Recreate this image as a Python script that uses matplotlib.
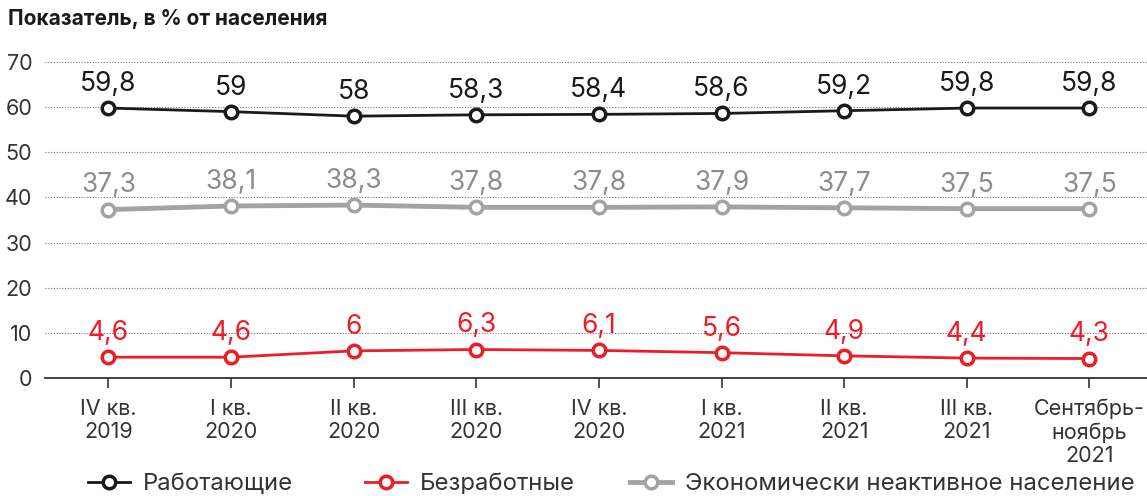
import matplotlib
matplotlib.use('Agg')
import matplotlib.pyplot as plt
from matplotlib.lines import Line2D

plt.rcParams['font.family'] = ['Inter', 'DejaVu Sans']

periods = ['IV кв.\n2019', 'I кв.\n2020', 'II кв.\n2020', 'III кв.\n2020', 'IV кв.\n2020',
           'I кв.\n2021', 'II кв.\n2021', 'III кв.\n2021', 'Сентябрь-\nноябрь\n2021']
working = [59.8, 59, 58, 58.3, 58.4, 58.6, 59.2, 59.8, 59.8]
unemployed = [4.6, 4.6, 6, 6.3, 6.1, 5.6, 4.9, 4.4, 4.3]
inactive = [37.3, 38.1, 38.3, 37.8, 37.8, 37.9, 37.7, 37.5, 37.5]

names = ['Работающие', 'Безработные', 'Экономически неактивное население']
colors = ['#1a1a1a', '#ee1c25', '#a3a3a3']
text_colors = ['#1a1a1a', '#ee1c25', '#8c8c8c']
widths = [2.0, 2.0, 3.5]

fig = plt.figure(figsize=(11.47, 4.96), dpi=100)
ax = fig.add_axes([0.039, 0.238, 0.961, 0.637])

x = list(range(len(periods)))
for vals, c, tc, lw in zip([working, unemployed, inactive], colors, text_colors, widths):
    ax.plot(x, vals, color=c, lw=lw, marker='o', ms=9, mfc='white', mec=c, mew=2.5, zorder=3)
    for xi, v in zip(x, vals):
        ax.annotate(f'{v:g}'.replace('.', ','), (xi, v), xytext=(0, 8), textcoords='offset points',
                    ha='center', va='bottom', fontsize=19, color=tc)

ax.set_xlim(-0.52, 8.47)
ax.set_ylim(0, 70)
ax.set_yticks(range(0, 71, 10))
ax.set_xticks(x)
ax.set_xticklabels(periods, fontsize=15.5, color='#333333', linespacing=1.18)
ax.tick_params(axis='y', length=0, pad=9, labelsize=15.5, labelcolor='#333333')
ax.tick_params(axis='x', length=7, width=1.2, color='#333333', pad=8)
for s in ['top', 'right', 'left']:
    ax.spines[s].set_visible(False)
ax.spines['bottom'].set_color('#333333')
ax.spines['bottom'].set_linewidth(1.3)
ax.grid(axis='y', linestyle=(0, (1, 1.5)), color='#777777', lw=0.8)
ax.set_axisbelow(True)

fig.text(0.007, 0.962, 'Показатель, в % от населения', fontsize=15, fontweight='bold',
         color='#1a1a1a', va='center')

# legend entries placed separately, as in the reference
leg_x = [88 / 1147, 365 / 1147, 630 / 1147]
for name, c, lw, lx in zip(names, colors, widths, leg_x):
    h = Line2D([], [], color=c, lw=lw, marker='o', ms=9, mfc='white', mec=c, mew=2.5)
    fig.legend([h], [name], loc='lower left', bbox_to_anchor=(lx, 0.002), frameon=False,
               fontsize=17.2, handlelength=1.75, handletextpad=0.55, borderpad=0,
               borderaxespad=0, labelcolor='#333333')

fig.savefig('out.png', dpi=100)
